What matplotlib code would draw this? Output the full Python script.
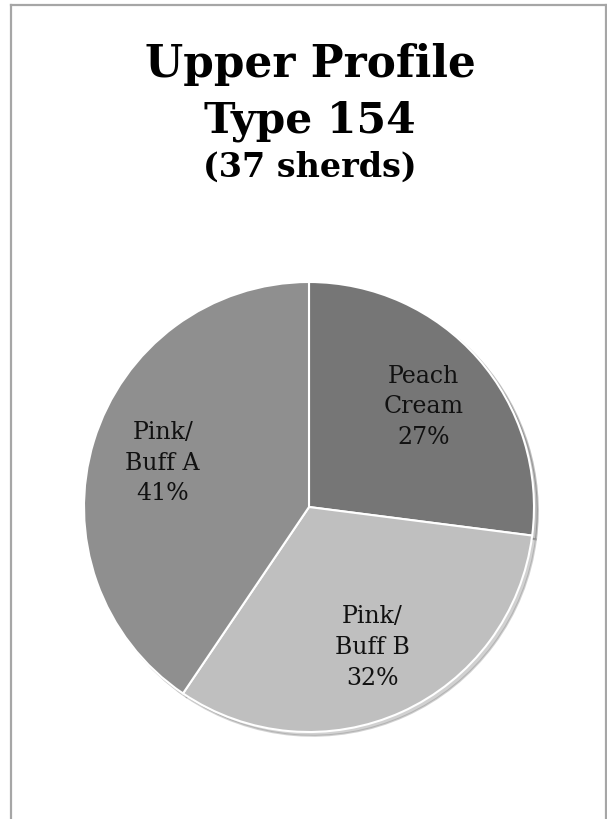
import matplotlib
matplotlib.use("Agg")
import matplotlib.pyplot as plt
from matplotlib.lines import Line2D

categories = ["Peach\nCream", "Pink/\nBuff B", "Pink/\nBuff A"]
sherd_counts = [10, 12, 15]
colors = ["#767676", "#bfbfbf", "#8f8f8f"]
title_lines = ["Upper Profile", "Type 154", "(37 sherds)"]

W, H = 607, 820
fig = plt.figure(figsize=(W / 100, H / 100), dpi=100)
fig.patch.set_facecolor("white")

# outer border (left, top, right)
for (xs, ys) in [([10.5 / W, 10.5 / W], [0, 1 - 5.5 / H]),
                 ([10.5 / W, 605.5 / W], [1 - 5.5 / H, 1 - 5.5 / H]),
                 ([605.5 / W, 605.5 / W], [0, 1 - 5.5 / H])]:
    fig.add_artist(Line2D(xs, ys, transform=fig.transFigure, color="#a6a6a6", lw=1.6))

serif = ["DejaVu Serif"]
fig.text(310 / W, 1 - 77 / H, title_lines[0], ha="center", va="baseline",
         fontsize=31.5, fontweight="bold", family=serif)
fig.text(310 / W, 1 - 133 / H, title_lines[1], ha="center", va="baseline",
         fontsize=30.5, fontweight="bold", family=serif)
fig.text(310 / W, 1 - 177 / H, title_lines[2], ha="center", va="baseline",
         fontsize=24, fontweight="bold", family=serif)

cx, cy, r = 309, 508, 225
ax = fig.add_axes([(cx - r) / W, (H - cy - r) / H, 2 * r / W, 2 * r / H])
pct = [100 * v / sum(sherd_counts) for v in sherd_counts]
labels = [f"{c}\n{p:.0f}%" for c, p in zip(categories, pct)]
wedges, texts = ax.pie(sherd_counts, labels=labels, colors=colors, startangle=90,
                       counterclock=False, labeldistance=0.68,
                       wedgeprops=dict(edgecolor="white", linewidth=1.5),
                       shadow=dict(ox=0.012, oy=-0.012, shade=0.35, alpha=0.35))
for t in texts:
    t.set_ha("center")
    t.set_va("center")
    t.set_fontsize(17)
    t.set_family(serif)
    t.set_linespacing(1.43)
    t.set_color("#111111")
ax.set_xlim(-1, 1)
ax.set_ylim(-1, 1)
for p in ax.patches:
    p.set_clip_on(False)

fig.savefig("out.png", dpi=100, facecolor="white")
